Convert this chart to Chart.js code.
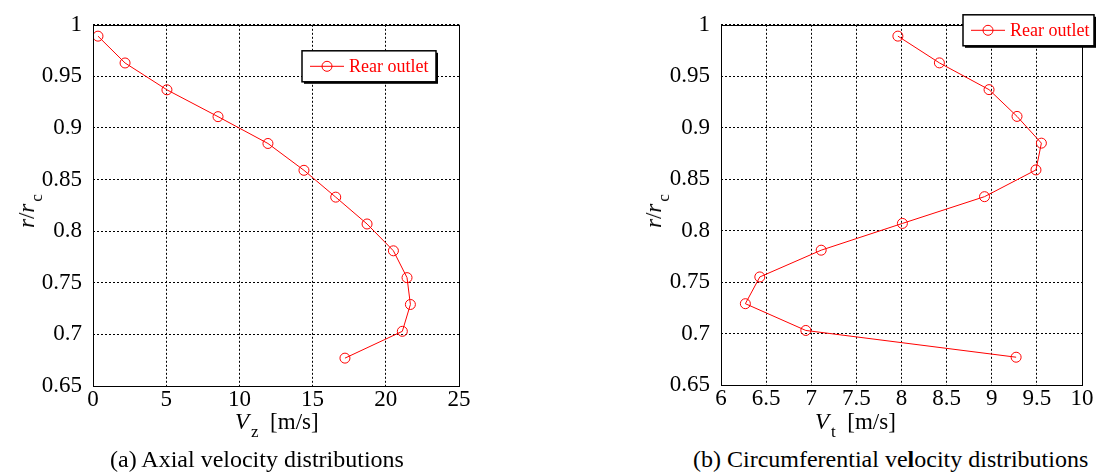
<!DOCTYPE html>
<html>
<head>
<meta charset="utf-8">
<script src="https://cdn.jsdelivr.net/npm/chart.js@4/dist/chart.umd.min.js"></script>
<style>
    body { margin: 0; background: #fff; }
    #wrap { position: relative; width: 1096px; height: 473px; overflow: hidden; font-family: "Liberation Serif", "Times New Roman", Times, serif; color: #000; }
    canvas { position: absolute; top: 0; }
    .lbl { position: absolute; font-size: 23px; white-space: nowrap; line-height: 1; }
    .lbl sub { font-size: 17px; font-style: normal; vertical-align: -8px; margin-left: 2px; }
    .ylbl { transform-origin: center center; transform: translate(-50%, -50%) rotate(-90deg); }
    .cap { position: absolute; font-size: 24px; white-space: nowrap; line-height: 1; }
</style>
</head>
<body>
<div id="wrap">
    <canvas id="axialChart" width="520" height="440" style="left:0"></canvas>
    <canvas id="circChart" width="476" height="440" style="left:620px"></canvas>

    <div class="lbl ylbl" style="left:30px; top:211px;"><i>r</i>/<i>r</i><sub>c</sub></div>
    <div class="lbl" style="left:235px; top:410px;"><i>V</i><sub>z</sub>&nbsp; [m/s]</div>
    <div class="cap" style="left:110px; top:447px;">(a) Axial velocity distributions</div>

    <div class="lbl ylbl" style="left:657px; top:211px;"><i>r</i>/<i>r</i><sub>c</sub></div>
    <div class="lbl" style="left:815px; top:410px;"><i>V</i><sub>t</sub>&nbsp; [m/s]</div>
    <div class="cap" style="left:693px; top:447px;">(b) Circumferential ve<b>l</b>ocity distributions</div>
</div>
<script>
// radial positions (r/rc), shared by both plots
const rRatio = [0.989, 0.963, 0.937, 0.911, 0.885, 0.859, 0.833, 0.807, 0.781, 0.755, 0.729, 0.703, 0.677];
// axial velocity Vz [m/s]
const axialV = [0.34, 2.19, 5.05, 8.54, 11.95, 14.41, 16.58, 18.72, 20.52, 21.45, 21.68, 21.13, 17.21];
// circumferential velocity Vt [m/s]
const circV = [7.96, 8.42, 8.97, 9.28, 9.55, 9.49, 8.92, 8.01, 7.11, 6.43, 6.27, 6.94, 9.27];

const rTicks = [0.65, 0.7, 0.75, 0.8, 0.85, 0.9, 0.95, 1];
const axialTicks = [0, 5, 10, 15, 20, 25];
const circTicks = [6, 6.5, 7, 7.5, 8, 8.5, 9, 9.5, 10];
const seriesName = 'Rear outlet';

const RED = '#ff0000';
const FONT = '"Liberation Serif", "Times New Roman", Times, serif';

// frame around the plot area
const framePlugin = {
    id: 'frame',
    afterDraw(chart) {
        const a = chart.chartArea;
        const ctx = chart.ctx;
        ctx.save();
        ctx.strokeStyle = '#000';
        ctx.lineWidth = 1;
        ctx.strokeRect(Math.round(a.left) + 0.5, Math.round(a.top) + 0.5,
            Math.round(a.right - a.left), Math.round(a.bottom - a.top));
        ctx.restore();
    }
};

// matlab style legend box with drop shadow
const boxLegendPlugin = {
    id: 'boxLegend',
    afterDraw(chart, args, opts) {
        const a = chart.chartArea;
        const ctx = chart.ctx;
        const x = a.right + opts.dx, y = a.top + opts.dy, w = opts.w, h = opts.h;
        ctx.save();
        ctx.fillStyle = '#000';
        ctx.fillRect(x + 2, y + 2, w, h);
        ctx.fillStyle = '#fff';
        ctx.fillRect(x, y, w, h);
        ctx.strokeStyle = '#000';
        ctx.lineWidth = 1.5;
        ctx.strokeRect(x, y, w, h);
        const cy = y + h / 2;
        ctx.strokeStyle = RED;
        ctx.lineWidth = 1;
        ctx.beginPath();
        ctx.moveTo(x + 8, cy);
        ctx.lineTo(x + 42, cy);
        ctx.stroke();
        ctx.beginPath();
        ctx.arc(x + 25, cy, 5, 0, Math.PI * 2);
        ctx.stroke();
        ctx.fillStyle = RED;
        ctx.font = '18px ' + FONT;
        ctx.textBaseline = 'middle';
        ctx.fillText(seriesName, x + 47, cy + 1);
        ctx.restore();
    }
};

function fmt(v) {
    return String(Number(v.toFixed(2)));
}

function makeChart(id, xs, xTicks, pad, yWidth, xHeight, legendOpts) {
    const ctx = document.getElementById(id).getContext('2d');
    return new Chart(ctx, {
        type: 'scatter',
        data: {
            datasets: [{
                label: seriesName,
                data: xs.map((v, i) => ({ x: v, y: rRatio[i] })),
                showLine: true,
                borderColor: RED,
                borderWidth: 1,
                pointStyle: 'circle',
                pointRadius: 5,
                pointBorderWidth: 1,
                pointBorderColor: RED,
                pointBackgroundColor: 'rgba(0,0,0,0)',
                tension: 0
            }]
        },
        options: {
            responsive: false,
            devicePixelRatio: 1,
            animation: false,
            layout: { padding: pad },
            plugins: {
                legend: { display: false },
                tooltip: { enabled: false },
                boxLegend: legendOpts
            },
            scales: {
                x: {
                    type: 'linear',
                    min: xTicks[0],
                    max: xTicks[xTicks.length - 1],
                    afterBuildTicks: s => { s.ticks = xTicks.map(v => ({ value: v })); },
                    afterFit: s => { s.height = xHeight; },
                    grid: { color: '#000', lineWidth: 1, drawTicks: false },
                    border: { display: false, dash: [2, 2] },
                    ticks: {
                        color: '#000',
                        font: { family: FONT, size: 23 },
                        padding: 0,
                        maxRotation: 0,
                        callback: v => fmt(v)
                    }
                },
                y: {
                    type: 'linear',
                    min: rTicks[0],
                    max: rTicks[rTicks.length - 1],
                    afterBuildTicks: s => { s.ticks = rTicks.map(v => ({ value: v })); },
                    afterFit: s => { s.width = yWidth; },
                    grid: { color: '#000', lineWidth: 1, drawTicks: false },
                    border: { display: false, dash: [2, 2] },
                    ticks: {
                        color: '#000',
                        font: { family: FONT, size: 23 },
                        padding: 11,
                        callback: v => fmt(v)
                    }
                }
            }
        },
        plugins: [framePlugin, boxLegendPlugin]
    });
}

// dotted grid lines
Chart.defaults.scale.grid.borderDash = [2, 2];
Chart.defaults.font.family = FONT;

let axialChart, circChart;

function buildCharts() {
    axialChart = makeChart('axialChart', axialV, axialTicks,
        { top: 20, right: 61, bottom: 0, left: 0 }, 93, 54,
        { dx: -157, dy: 26, w: 134, h: 31 });

    circChart = makeChart('circChart', circV, circTicks,
        { top: 24, right: 14, bottom: 0, left: 0 }, 101, 55,
        { dx: -119, dy: -10, w: 131, h: 31 });
}

// make sure the serif face is ready before the canvas draws text
document.fonts.load('23px "Liberation Serif"').then(buildCharts, buildCharts);
</script>
</body>
</html>
